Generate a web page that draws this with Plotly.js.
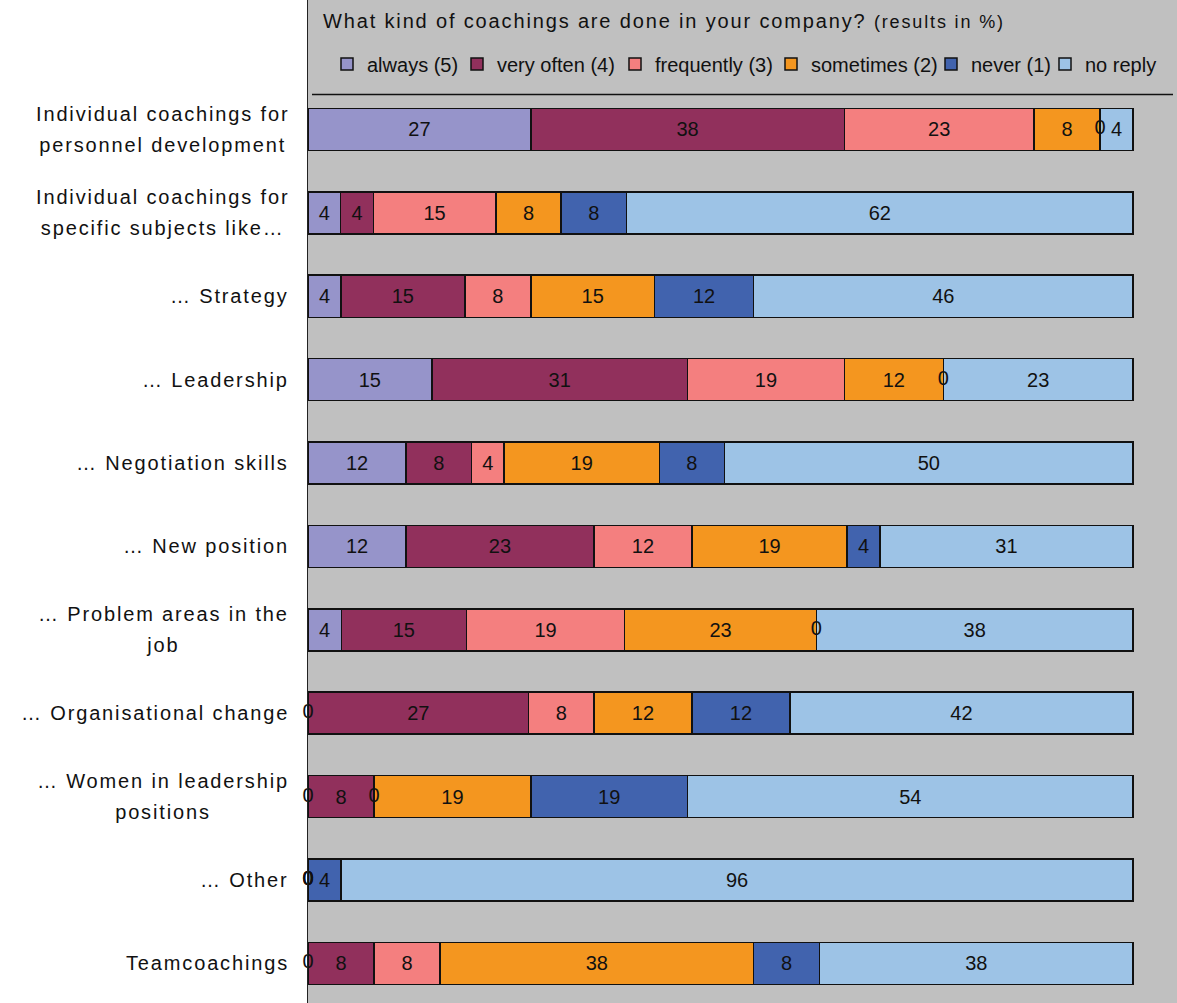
<!DOCTYPE html>
<html>
<head>
<meta charset="utf-8">
<script src="https://cdn.plot.ly/plotly-3.0.1.min.js"></script>
<style>
  html, body { margin: 0; padding: 0; background: #ffffff; }
  #chart { width: 1177px; height: 1003px; }
  text { letter-spacing: 0; }
  .annotation-text { letter-spacing: 1.85px; }
</style>
</head>
<body>
<div id="chart"></div>
<script>
// ---- data (results in %) ----
var categories = [
  "Individual coachings for<br>personnel development",
  "Individual coachings for<br>specific subjects like…",
  "… Strategy",
  "… Leadership",
  "… Negotiation skills",
  "… New position",
  "… Problem areas in the<br>job",
  "… Organisational change",
  "… Women in leadership<br>positions",
  "… Other",
  "Teamcoachings"
];
var seriesNames = ["always (5)", "very often (4)", "frequently (3)", "sometimes (2)", "never (1)", "no reply"];
var always     = [27,  4,  4, 15, 12, 12,  4,  0,  0,  0,  0];
var veryOften  = [38,  4, 15, 31,  8, 23, 15, 27,  8,  0,  8];
var frequently = [23, 15,  8, 19,  4, 12, 19,  8,  0,  0,  8];
var sometimes  = [ 8,  8, 15, 12, 19, 19, 23, 12, 19,  0, 38];
var never      = [ 0,  8, 12,  0,  8,  4,  0, 12, 19,  4,  8];
var noReply    = [ 4, 62, 46, 23, 50, 31, 38, 42, 54, 96, 38];
var titleText = "What kind of coachings are done in your company?";
var titleNote = "(results in %)";

// ---- styling ----
var colors = ["#9694CA", "#91305C", "#F47F7F", "#F4961F", "#4163AE", "#9DC3E6"];
var FONT = '"Liberation Sans", Arial, sans-serif';
var series = [always, veryOften, frequently, sometimes, never, noReply];
var legendTextStart = [365, 495, 653, 809, 969, 1083]; // px positions of legend entries
var plotLeft = 308, plotW = 1177 - 308;

var traces = [];
series.forEach(function (vals, i) {
  traces.push({
    type: "bar",
    orientation: "h",
    name: seriesNames[i],
    y: categories,
    x: vals,
    text: vals.map(function (v) { return v === 0 ? "" : String(v); }),
    textposition: "inside",
    insidetextanchor: "middle",
    textangle: 0,
    constraintext: "none",
    textfont: { family: FONT, size: 20, color: "#111111" },
    marker: { color: colors[i], line: { color: "#111111", width: 1.5 } },
    hoverinfo: "skip",
    legend: i === 0 ? "legend" : "legend" + (i + 1)
  });
});

// zero-valued segments: labels "0" at the segment boundary (normalised to 100 %)
var zx = [], zy = [];
categories.forEach(function (c, r) {
  var total = 0;
  series.forEach(function (s) { total += s[r]; });
  var cum = 0;
  series.forEach(function (s) {
    if (s[r] === 0) { zx.push(cum / total * 100); zy.push(c); }
    cum += s[r];
  });
});
traces.push({
  type: "scatter",
  mode: "text",
  x: zx,
  y: zy,
  text: zx.map(function () { return "0"; }),
  textposition: "middle center",
  textfont: { family: FONT, size: 20, color: "#111111" },
  cliponaxis: false,
  showlegend: false,
  hoverinfo: "skip"
});

var annotations = [{
  xref: "paper", yref: "paper",
  x: (321 - plotLeft) / plotW, y: 1 - 21 / 1003,
  xanchor: "left", yanchor: "middle",
  showarrow: false,
  text: titleText + " <span style='font-size:18px'>" + titleNote + "</span>",
  font: { family: FONT, size: 20, color: "#111111" }
}];
categories.forEach(function (c) {
  var lines = c.split("<br>").map(function (l) { return "<span style='font-size:20px'>" + l + "</span>"; });
  annotations.push({
    xref: "paper", yref: "y",
    x: (291 - plotLeft) / plotW, y: c,
    xanchor: "right", yanchor: "middle",
    align: "center",
    showarrow: false,
    text: lines.join("<br>"),
    font: { family: FONT, size: 24, color: "#111111" }
  });
});

var layout = {
  width: 1177, height: 1003,
  margin: { l: plotLeft, r: 0, t: 0, b: 0, pad: 0 },
  paper_bgcolor: "#ffffff",
  plot_bgcolor: "#C0C0C0",
  barmode: "stack",
  barnorm: "percent",
  bargap: 0.496,
  font: { family: FONT, size: 20, color: "#111111" },
  xaxis: {
    range: [0, 105.33], autorange: false,
    showgrid: false, zeroline: false, showline: false,
    showticklabels: false, ticks: "", fixedrange: true
  },
  yaxis: {
    type: "category",
    categoryorder: "array", categoryarray: categories,
    range: [10.476, -1.553], autorange: false,
    showgrid: false, zeroline: false,
    showline: true, linecolor: "#222222", linewidth: 1.5,
    showticklabels: false, ticks: "", fixedrange: true
  },
  shapes: [{
    type: "line", xref: "paper", yref: "paper",
    x0: (312 - plotLeft) / plotW, x1: (1173 - plotLeft) / plotW,
    y0: 1 - 94.5 / 1003, y1: 1 - 94.5 / 1003,
    line: { color: "#111111", width: 1.5 }
  }],
  annotations: annotations,
  showlegend: true
};
legendTextStart.forEach(function (px, i) {
  var key = i === 0 ? "legend" : "legend" + (i + 1);
  layout[key] = {
    x: (px - 38 - plotLeft) / plotW, xanchor: "left",
    y: 1 - 64 / 1003, yanchor: "middle",
    orientation: "h",
    bgcolor: "rgba(0,0,0,0)", borderwidth: 0,
    font: { family: FONT, size: 20, color: "#111111" },
    itemclick: false, itemdoubleclick: false
  };
});

Plotly.newPlot("chart", traces, layout, { displayModeBar: false, staticPlot: true });
</script>
</body>
</html>
